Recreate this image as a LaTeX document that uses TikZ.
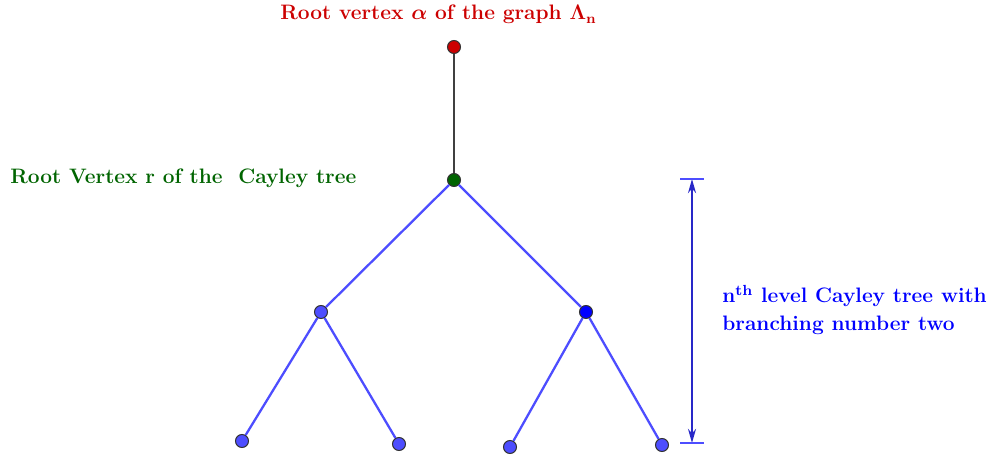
\documentclass[tikz,border=0pt]{standalone}
\usepackage{amsmath}
\usetikzlibrary{arrows.meta, positioning}

\definecolor{rootred}{RGB}{204,0,0}
\definecolor{rootgreen}{RGB}{0,100,0}
\definecolor{treeblue}{RGB}{77,77,255}
\definecolor{deepblue}{RGB}{0,0,255}
\definecolor{dimblue}{RGB}{40,40,200}

\begin{document}
\begin{tikzpicture}[
    x=0.02cm, y=-0.02cm,
    vertex/.style={circle, draw=black!80, line width=0.6pt, inner sep=0pt, minimum size=0.26cm},
    treeedge/.style={draw=treeblue, line width=1.3pt},
    stem/.style={draw=black!75, line width=1.2pt},
    dim/.style={draw=dimblue, line width=1.3pt, {Stealth[length=8pt,width=4.5pt]}-{Stealth[length=8pt,width=4.5pt]}},
    tick/.style={draw=treeblue, line width=1.3pt},
    label/.style={font=\fontsize{11.9}{16}\selectfont\bfseries\boldmath, inner sep=0pt}
]
\useasboundingbox (0,0) rectangle (989,455);

% Vertices
\node[vertex, fill=rootred] (alpha) at (454,47) {};
\node[vertex, fill=rootgreen] (root) at (454,180) {};
\node[vertex, fill=treeblue] (left) at (321,312) {};
\node[vertex, fill=deepblue] (right) at (586,312) {};
\node[vertex, fill=treeblue] (leafa) at (242,441) {};
\node[vertex, fill=treeblue] (leafb) at (399,444) {};
\node[vertex, fill=treeblue] (leafc) at (510,447) {};
\node[vertex, fill=treeblue] (leafd) at (662,445) {};

% Edges
\draw[stem] (alpha) -- (root);
\draw[treeedge] (root) -- (left);
\draw[treeedge] (root) -- (right);
\draw[treeedge] (left) -- (leafa);
\draw[treeedge] (left) -- (leafb);
\draw[treeedge] (right) -- (leafc);
\draw[treeedge] (right) -- (leafd);

% Height of the tree
\coordinate (dimtop) at (692,179);
\coordinate (dimbot) at (692,443);
\draw[dim] (dimtop) -- (dimbot);
\draw[tick] (dimtop) ++(-12,0) -- ++(24,0);
\draw[tick] (dimbot) ++(-12,0) -- ++(24,0);

% Labels
\node[label, text=rootred, anchor=base west] (alphalabel) at (280,20)
    {Root vertex $\alpha$ of the graph $\Lambda_{\mathbf{n}}$};
\node[label, text=rootgreen, anchor=base west] (rootlabel) at (10,184)
    {Root Vertex r of the\ \ Cayley tree};
\node[label, text=deepblue, anchor=base west, align=left] (treelabel) at (722,331)
    {n\textsuperscript{th} level Cayley tree with\\ branching number two};

\end{tikzpicture}
\end{document}
